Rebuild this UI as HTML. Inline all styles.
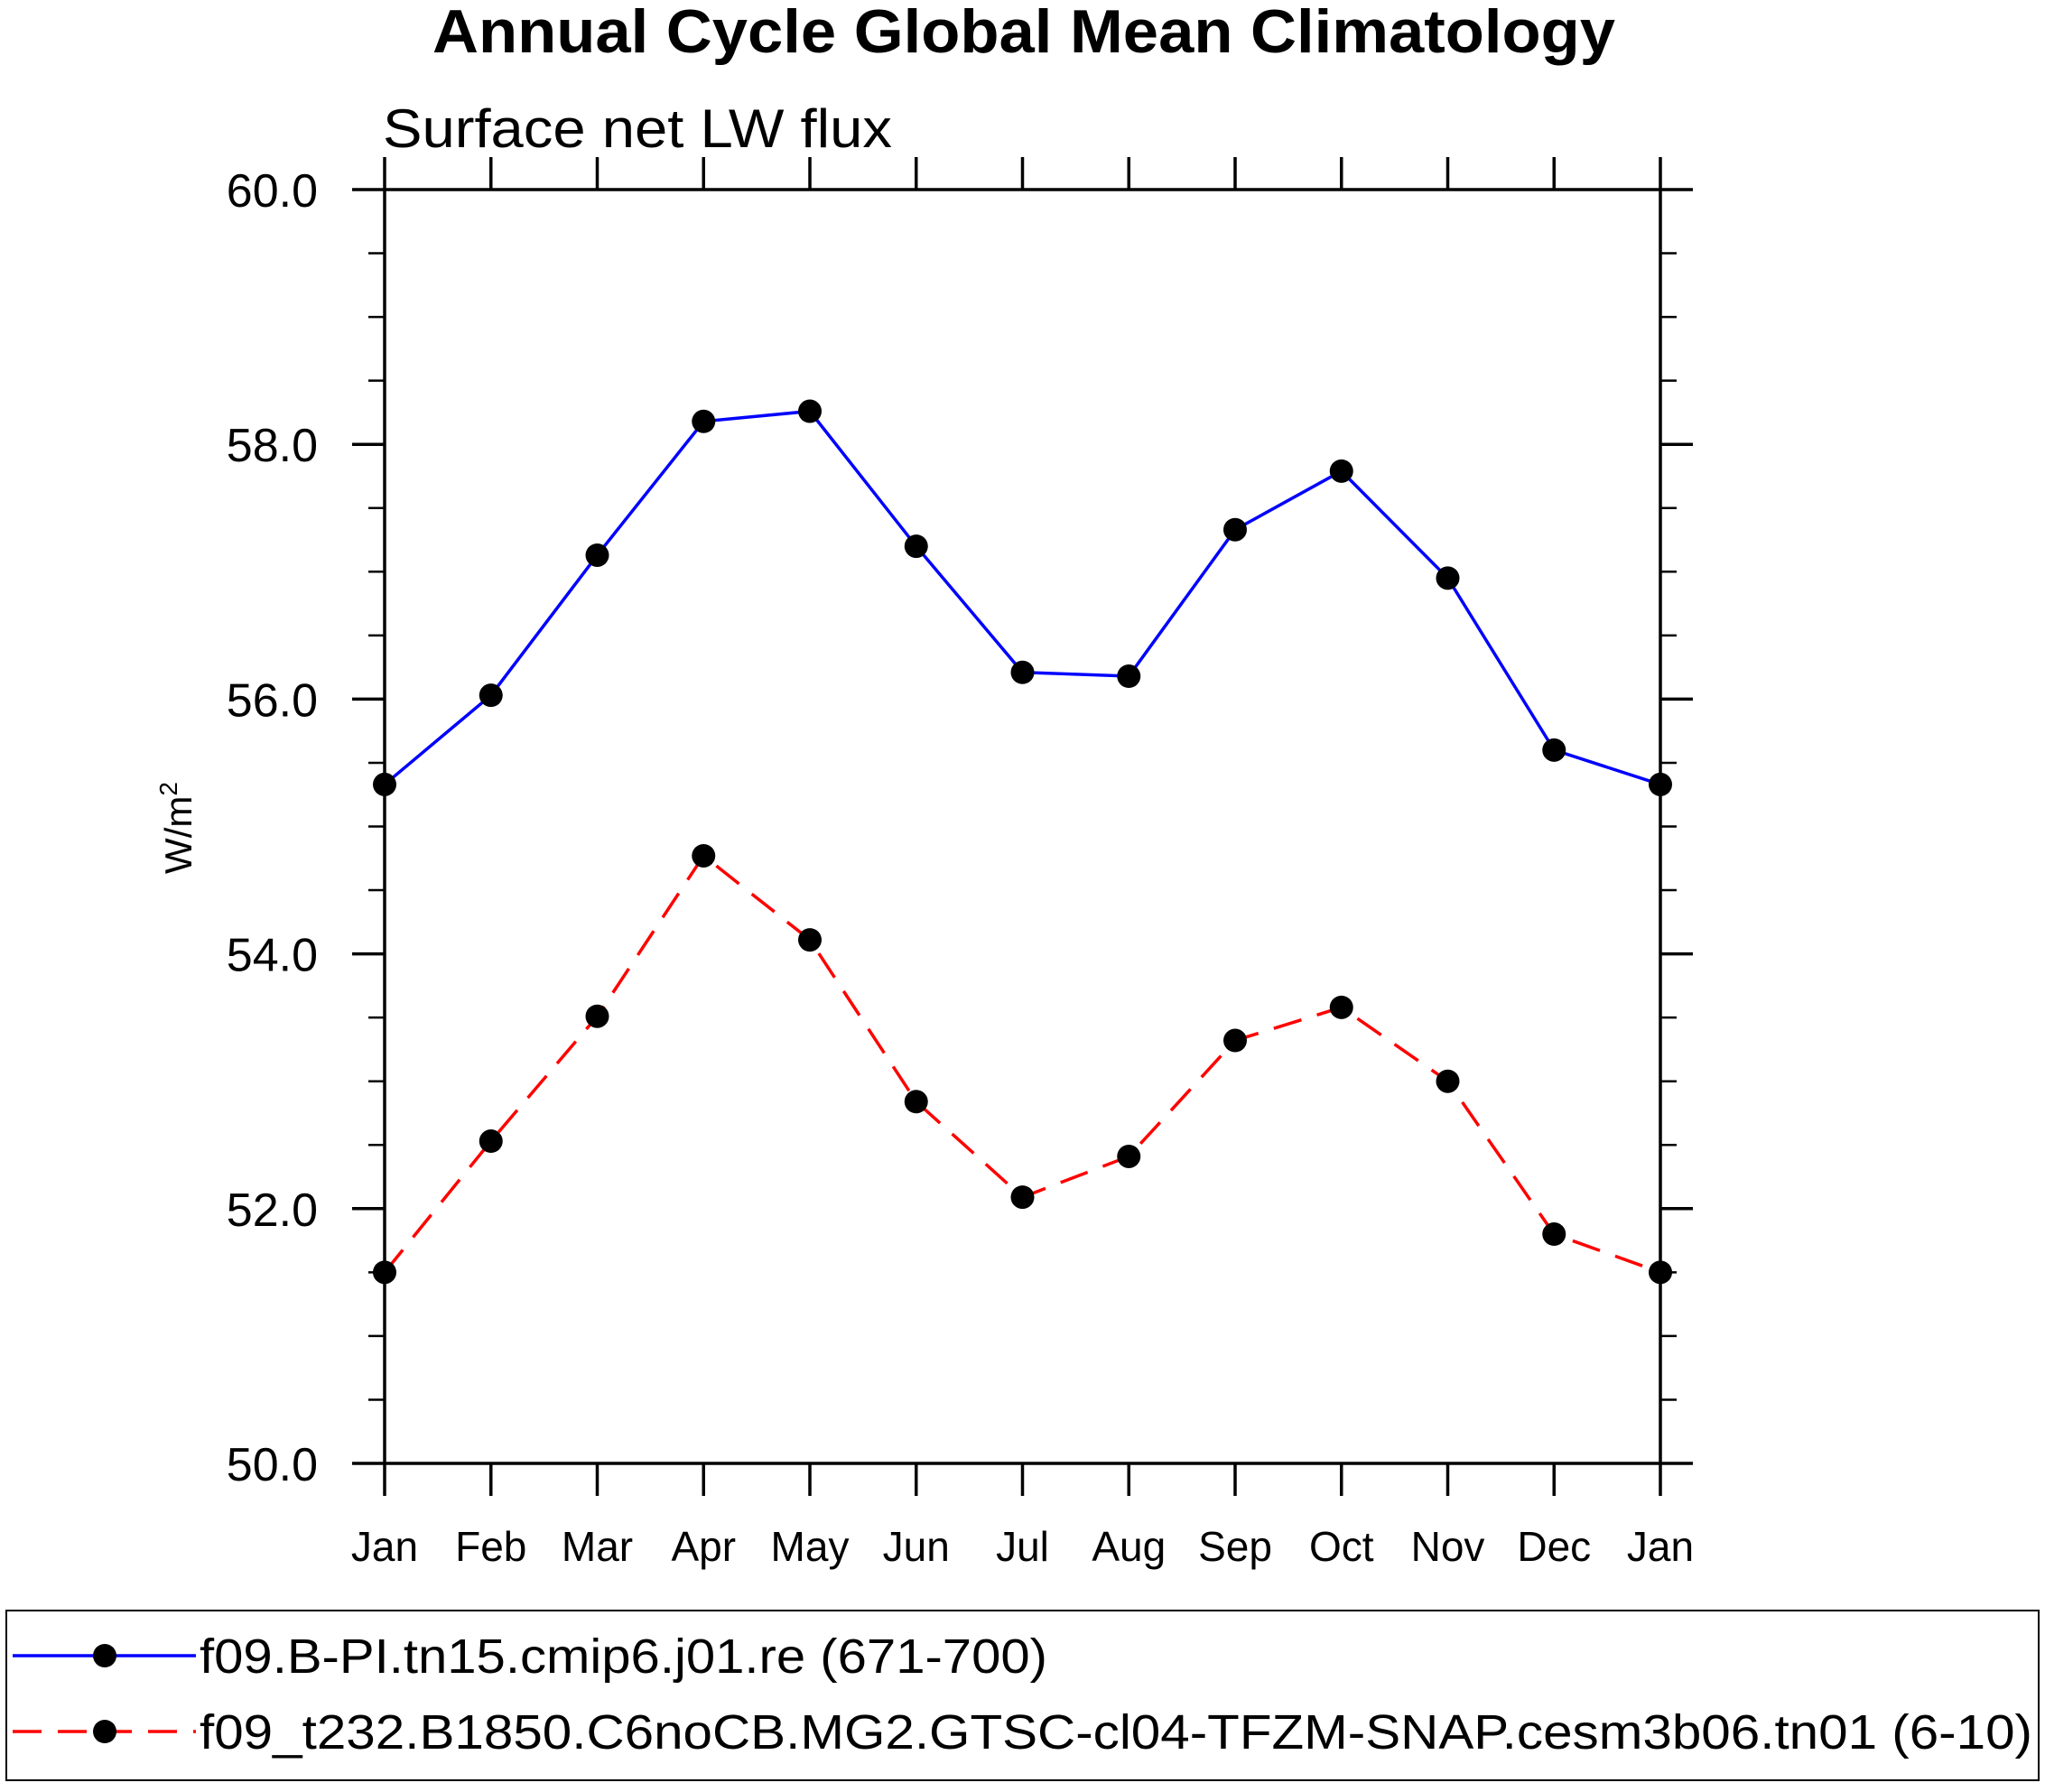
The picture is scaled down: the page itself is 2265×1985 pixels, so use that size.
<!DOCTYPE html>
<html><head><meta charset="utf-8"><style>html,body{margin:0;padding:0;background:#fff}</style></head>
<body>
<svg id="chart" width="2265" height="1980" viewBox="0 0 2265 1980" xmlns="http://www.w3.org/2000/svg" font-family="Liberation Sans, sans-serif">
<rect width="2265" height="1980" fill="#fff"/>
<text x="1134" y="58" font-size="68" font-weight="bold" text-anchor="middle" textLength="1310" lengthAdjust="spacingAndGlyphs">Annual Cycle Global Mean Climatology</text>
<text x="424" y="163" font-size="60" textLength="564" lengthAdjust="spacingAndGlyphs">Surface net LW flux</text>
<g id="axes"></g>
<g id="series"></g>
<text transform="translate(212,917) rotate(-90)" font-size="42" text-anchor="middle">W/m<tspan dy="-16" font-size="28">2</tspan></text>
<rect x="7" y="1784" width="2251" height="188" fill="none" stroke="#000" stroke-width="2"/>
<g id="legend"></g>
</svg>
<script>
const months = ["Jan","Feb","Mar","Apr","May","Jun","Jul","Aug","Sep","Oct","Nov","Dec","Jan"];
const blueValues = [55.33,56.03,57.13,58.18,58.26,57.20,56.21,56.18,57.33,57.79,56.95,55.60,55.33];
const redValues = [51.50,52.53,53.51,54.77,54.11,52.84,52.09,52.41,53.32,53.58,53.00,51.80,51.50];
const yTicks = [50,52,54,56,58,60];
const yTickLabels = ["50.0","52.0","54.0","56.0","58.0","60.0"];
const legendLabels = ["f09.B-PI.tn15.cmip6.j01.re (671-700)","f09_t232.B1850.C6noCB.MG2.GTSC-cl04-TFZM-SNAP.cesm3b06.tn01 (6-10)"];

const NS="http://www.w3.org/2000/svg";
const L=426,R=1839,T=210,B=1621;
const xS=i=>L+(R-L)*i/(months.length-1);
const yS=v=>B-(B-T)*(v-50)/10;
function mk(tag,attrs,parent){const e=document.createElementNS(NS,tag);for(const k in attrs)e.setAttribute(k,attrs[k]);parent.appendChild(e);return e;}
const ax=document.getElementById('axes');
const frame=mk('rect',{x:L,y:T,width:R-L,height:B-T,fill:'none',stroke:'#000','stroke-width':3.5},ax);


months.forEach((m,i)=>{
  const x=xS(i);
  mk('line',{x1:x,x2:x,y1:B,y2:B+36,stroke:'#000','stroke-width':3.5},ax);
  mk('line',{x1:x,x2:x,y1:T,y2:T-36,stroke:'#000','stroke-width':3.5},ax);
  const t=mk('text',{x:x,y:1729,'font-size':46,'text-anchor':'middle'},ax);
  t.textContent=m;
  
  
});
for(let v=50;v<=60.001;v+=0.5){
  const y=yS(v);const major=Math.abs(v-Math.round(v/2)*2)<1e-6;
  const len=major?36:18;
  mk('line',{x1:L,x2:L-len,y1:y,y2:y,stroke:'#000','stroke-width':major?3.5:2.5},ax);
  mk('line',{x1:R,x2:R+len,y1:y,y2:y,stroke:'#000','stroke-width':major?3.5:2.5},ax);
}
yTicks.forEach((v,i)=>{
  const t=mk('text',{x:352,y:yS(v)+19,'font-size':52,'text-anchor':'end'},ax);
  t.textContent=yTickLabels[i];
  
  
});
const sg=document.getElementById('series');
function drawSeries(vals,color,dash,name){
  const pts=vals.map((v,i)=>xS(i)+','+yS(v)).join(' ');
  const pl=mk('polyline',{points:pts,fill:'none',stroke:color,'stroke-width':3.5,'stroke-dasharray':dash},sg);
  
  
  vals.forEach((v,i)=>{
    const c=mk('circle',{cx:xS(i),cy:yS(v),r:13,fill:'#000'},sg);
    
    
  });
}
drawSeries(blueValues,'#0000ff','none','blue-series');
drawSeries(redValues,'#ff0000','32 18','red-series');
const lg=document.getElementById('legend');
[[1834,'#0000ff','none',939],[1918,'#ff0000','32 18',2030]].forEach((d,i)=>{
  const ln=mk('line',{x1:14,x2:217,y1:d[0],y2:d[0],stroke:d[1],'stroke-width':3.5,'stroke-dasharray':d[2]},lg);
  
  
  mk('circle',{cx:116,cy:d[0],r:13,fill:'#000'},lg);
  const t=mk('text',{x:221,y:d[0]+19,'font-size':54,textLength:d[3],lengthAdjust:'spacingAndGlyphs'},lg);
  t.textContent=legendLabels[i];
  
  
});
</script>
</body></html>
